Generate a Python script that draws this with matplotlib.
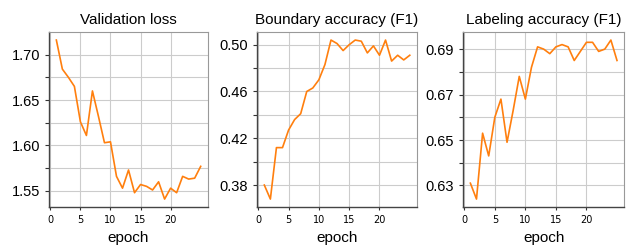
import matplotlib.pyplot as plt

epochs = list(range(1, 26))

val_loss = [1.716, 1.684, 1.675, 1.665, 1.626, 1.611, 1.660, 1.632, 1.603, 1.604,
            1.566, 1.553, 1.573, 1.548, 1.557, 1.555, 1.551, 1.560, 1.541, 1.553,
            1.548, 1.566, 1.563, 1.564, 1.577]

boundary_f1 = [0.380, 0.368, 0.412, 0.412, 0.427, 0.436, 0.441, 0.460, 0.463, 0.470,
               0.483, 0.504, 0.501, 0.495, 0.500, 0.504, 0.503, 0.493, 0.499, 0.491,
               0.504, 0.486, 0.491, 0.487, 0.491]

labeling_f1 = [0.631, 0.624, 0.653, 0.643, 0.660, 0.668, 0.649, 0.663, 0.678, 0.668,
               0.682, 0.691, 0.690, 0.688, 0.691, 0.692, 0.691, 0.685, 0.689, 0.693,
               0.693, 0.689, 0.690, 0.694, 0.685]

titles = ['Validation loss', 'Boundary accuracy (F1)', 'Labeling accuracy (F1)']
series = [val_loss, boundary_f1, labeling_f1]
x_ticks = [0, 5, 10, 15, 20]
y_ticks = [
    [1.55, 1.60, 1.65, 1.70],
    [0.38, 0.42, 0.46, 0.50],
    [0.63, 0.65, 0.67, 0.69],
]
y_minor = [
    [1.575, 1.625, 1.675, 1.725],
    [0.36, 0.40, 0.44, 0.48],
    [0.62, 0.64, 0.66, 0.68, 0.70],
]

plt.rcParams['font.family'] = ['Liberation Sans', 'DejaVu Sans']

fig = plt.figure(figsize=(6.3, 2.45), dpi=100)
lefts = [0.078, 0.408, 0.735]
widths = [0.252, 0.254, 0.256]

for i in range(3):
    ax = fig.add_axes([lefts[i], 0.155, widths[i], 0.714])
    ax.plot(epochs, series[i], color='#ff7f0e', lw=1.2, zorder=3)
    ylim = ax.get_ylim()
    ax.set_title(titles[i], fontsize=11, pad=6)
    ax.set_xlabel('epoch', fontsize=11, labelpad=4)
    ax.set_xticks(x_ticks)
    ax.set_yticks(y_ticks[i])
    ax.set_yticks(y_minor[i], minor=True)
    ax.set_yticklabels(['%.2f' % v for v in y_ticks[i]])
    ax.set_ylim(ylim)
    ax.grid(True, which='major', axis='x', color='#cccccc', lw=0.8)
    ax.grid(True, which='both', axis='y', color='#cccccc', lw=0.8)
    ax.set_axisbelow(True)
    for label in ax.get_xticklabels():
        label.set_fontfamily('DejaVu Sans')
        label.set_fontsize(7)
    ax.tick_params(axis='y', which='both', labelsize=10.5, length=3, width=0.8, color='#333333')
    ax.tick_params(axis='x', which='both', length=2.5, width=0.8, color='#333333', pad=3.5)
    ax.spines['left'].set_color('#444444')
    ax.spines['bottom'].set_color('#444444')
    ax.spines['left'].set_linewidth(1.0)
    ax.spines['bottom'].set_linewidth(1.0)
    ax.spines['top'].set_color('#999999')
    ax.spines['right'].set_color('#999999')
    ax.spines['top'].set_linewidth(0.8)
    ax.spines['right'].set_linewidth(0.8)

fig.savefig('out.png', dpi=100)
